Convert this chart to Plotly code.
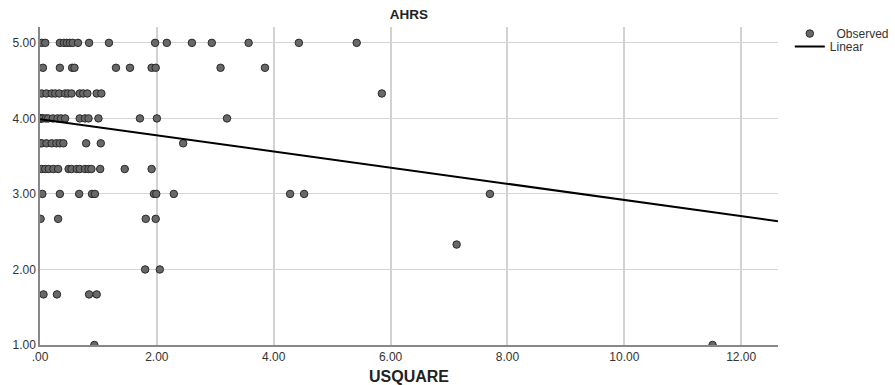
import plotly.graph_objects as go

# ---- data ----
rows_y = [5.00, 4.67, 4.33, 4.00, 3.67, 3.33, 3.00, 2.67, 2.33, 2.00, 1.67, 1.00]
rows_x = [
    [0.03, 0.09, 0.34, 0.41, 0.46, 0.51, 0.56, 0.65, 0.84, 1.18, 1.97, 2.17, 2.60, 2.94, 3.57, 4.43, 5.42],
    [0.05, 0.34, 0.55, 0.59, 1.30, 1.54, 1.91, 1.98, 3.09, 3.85],
    [0.03, 0.11, 0.20, 0.26, 0.33, 0.43, 0.48, 0.54, 0.68, 0.74, 0.81, 0.97, 1.05, 5.85],
    [0.00, 0.01, 0.02, 0.03, 0.05, 0.10, 0.14, 0.22, 0.30, 0.36, 0.43, 0.68, 0.77, 0.83, 1.00, 1.71, 2.00, 3.20],
    [0.00, 0.03, 0.11, 0.20, 0.28, 0.34, 0.40, 0.79, 1.04, 2.45],
    [0.03, 0.09, 0.15, 0.23, 0.31, 0.49, 0.54, 0.63, 0.68, 0.77, 0.83, 0.88, 1.03, 1.45, 1.91],
    [0.04, 0.34, 0.67, 0.89, 0.94, 1.95, 1.99, 2.29, 4.28, 4.52, 7.70],
    [0.01, 0.31, 1.81, 1.98],
    [7.13],
    [1.80, 2.05],
    [0.06, 0.29, 0.84, 0.97],
    [0.93, 11.51],
]
fit_intercept = 3.99
fit_slope = -0.107

x_tick_vals = [0, 2, 4, 6, 8, 10, 12]
x_tick_text = [".00", "2.00", "4.00", "6.00", "8.00", "10.00", "12.00"]
y_tick_vals = [1, 2, 3, 4, 5]
y_tick_text = ["1.00", "2.00", "3.00", "4.00", "5.00"]

x_range = [0, 12.63]
y_range = [1.0, 5.21]

obs_x = [x for xs in rows_x for x in xs]
obs_y = [y for y, xs in zip(rows_y, rows_x) for _ in xs]
line_x = x_range
line_y = [fit_intercept + fit_slope * v for v in line_x]

font = "Liberation Sans, Arial, sans-serif"
NBSP = "\u00a0"

fig = go.Figure()
fig.add_trace(go.Scatter(
    x=obs_x, y=obs_y, mode="markers", name=NBSP * 2 + "Observed", legend="legend",
    marker=dict(size=7.5, color="#686868", line=dict(color="#2a2a2a", width=1)),
))
fig.add_trace(go.Scatter(
    x=line_x, y=line_y, mode="lines", name="Linear", legend="legend2",
    line=dict(color="black", width=2),
))

legend_common = dict(x=1.016, xanchor="left", yanchor="top",
                     font=dict(family=font, size=12, color="#333333"),
                     bgcolor="rgba(0,0,0,0)", itemwidth=30, tracegroupgap=0)

fig.update_layout(
    width=895, height=385,
    margin=dict(l=40, r=117, t=27, b=40, autoexpand=False),
    paper_bgcolor="white", plot_bgcolor="white",
    font=dict(family=font, size=12, color="#333333"),
    title=dict(text="<b>AHRS</b>", x=(40 + 738 / 2) / 895, xanchor="center",
               y=1 - 14 / 385, yanchor="middle",
               font=dict(family=font, size=13.5, color="#222222")),
    showlegend=True,
    legend=dict(y=1.025, **legend_common),
    legend2=dict(y=0.984, **legend_common),
    xaxis=dict(range=x_range, tickvals=x_tick_vals, ticktext=x_tick_text,
               showgrid=True, gridcolor="#d2d2d2", gridwidth=1.5,
               showline=True, linecolor="#888888", linewidth=1.5,
               zeroline=False, ticks="", ticklen=0, automargin=False,
               tickfont=dict(size=12, color="#333333"),
               title=dict(text="<b>USQUARE</b>", font=dict(size=16, color="#222222"), standoff=10)),
    yaxis=dict(range=y_range, tickvals=y_tick_vals, ticktext=y_tick_text,
               showgrid=True, gridcolor="#d5d5d5", gridwidth=1,
               showline=True, linecolor="#888888", linewidth=1.5,
               zeroline=False, ticks="", ticklen=0, automargin=False,
               tickfont=dict(size=12, color="#333333")),
)

# remove the default 8px page margin so the 895x385 figure fills the window exactly
fig.write_html("out.html", config={"displayModeBar": False},
               post_script="document.body.style.margin='0';")
